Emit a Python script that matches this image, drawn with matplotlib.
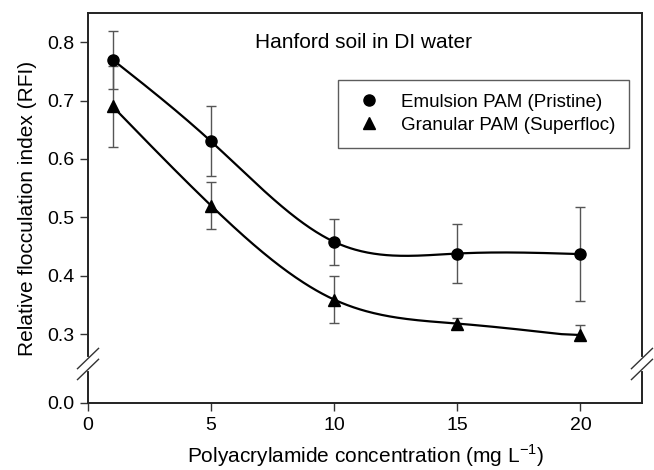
import matplotlib
matplotlib.use("Agg")
import matplotlib.pyplot as plt
import numpy as np

plt.rcParams['font.family'] = ['Liberation Sans', 'DejaVu Sans']

# data
conc = [1, 5, 10, 15, 20]
emulsion = [0.77, 0.63, 0.458, 0.438, 0.437]
emulsion_err = [0.05, 0.06, 0.04, 0.05, 0.081]
granular = [0.69, 0.52, 0.359, 0.318, 0.296]
granular_err = [0.07, 0.04, 0.04, 0.01, 0.02]
x_ticks = [0, 5, 10, 15, 20]
y_ticks = [0.0, 0.3, 0.4, 0.5, 0.6, 0.7, 0.8]


def natural_spline(x, y, xs):
    x = np.asarray(x, float)
    y = np.asarray(y, float)
    n = len(x)
    h = np.diff(x)
    A = np.zeros((n, n))
    b = np.zeros(n)
    A[0, 0] = A[-1, -1] = 1
    for i in range(1, n - 1):
        A[i, i - 1] = h[i - 1]
        A[i, i] = 2 * (h[i - 1] + h[i])
        A[i, i + 1] = h[i]
        b[i] = 6 * ((y[i + 1] - y[i]) / h[i] - (y[i] - y[i - 1]) / h[i - 1])
    M = np.linalg.solve(A, b)
    idx = np.clip(np.searchsorted(x, xs) - 1, 0, n - 2)
    x0, x1 = x[idx], x[idx + 1]
    hh = x1 - x0
    t0, t1 = x1 - xs, xs - x0
    return (M[idx] * t0 ** 3 / (6 * hh) + M[idx + 1] * t1 ** 3 / (6 * hh)
            + (y[idx] / hh - M[idx] * hh / 6) * t0
            + (y[idx + 1] / hh - M[idx + 1] * hh / 6) * t1)


# broken axis: 0-0.3 squeezed into a short band under 0.3
low = 0.118


def fwd(y):
    y = np.asarray(y, float)
    return np.where(y >= 0.3, y, 0.3 - low + y * low / 0.3)


def inv(y):
    y = np.asarray(y, float)
    return np.where(y >= 0.3, y, (y - (0.3 - low)) * 0.3 / low)


fig = plt.figure(figsize=(6.54, 4.70), dpi=100)
ax = fig.add_axes([0.1346, 0.1426, 0.847, 0.8297])
ax.set_yscale('function', functions=(fwd, inv))

xs = np.linspace(conc[0], conc[-1], 300)
ax.plot(xs, natural_spline(conc, emulsion, xs), color='black', lw=1.6, zorder=2)
ax.plot(xs, natural_spline(conc, granular, xs), color='black', lw=1.6, zorder=2)

ax.errorbar(conc, emulsion, yerr=emulsion_err, fmt='none', ecolor='#555555',
            elinewidth=1.0, capsize=3.5, capthick=1.0, zorder=1)
ax.errorbar(conc, granular, yerr=granular_err, fmt='none', ecolor='#555555',
            elinewidth=1.0, capsize=3.5, capthick=1.0, zorder=1)
ax.plot(conc, emulsion, 'o', color='black', ms=8, label='Emulsion PAM (Pristine)', zorder=3)
ax.plot(conc, granular, '^', color='black', ms=8, label='Granular PAM (Superfloc)', zorder=3)

ax.set_xlim(0, 22.5)
ax.set_ylim(0.0, 0.85)
ax.set_xticks(x_ticks)
ax.set_yticks(y_ticks)
ax.set_yticklabels(['%.1f' % v for v in y_ticks])
ax.tick_params(labelsize=14, length=6, width=1, direction='out', pad=4, color='#333333')
for s in ax.spines.values():
    s.set_linewidth(1.4)
    s.set_color('#222222')

ax.set_xlabel('Polyacrylamide concentration (mg L$^{\\mathregular{-1}}$)', fontsize=15, labelpad=6)
ax.set_ylabel('Relative flocculation index (RFI)', fontsize=15, labelpad=7)

ax.text(0.302, 0.925, 'Hanford soil in DI water', transform=ax.transAxes,
        fontsize=15, va='center', ha='left')

leg = ax.legend(loc='upper right', bbox_to_anchor=(0.9765, 0.828), fontsize=13.5,
                frameon=True, fancybox=False, edgecolor='#333333', handlelength=1.85,
                handletextpad=0.78, borderpad=0.72, labelspacing=0.33, borderaxespad=0)
leg.get_frame().set_linewidth(1.0)

# break marks on both spines
yc, dy, dx = 0.10, 0.026, 0.019
for xsp in (0, 1):
    ax.plot([xsp, xsp], [yc - 0.014, yc + 0.014], color='white', lw=3,
            transform=ax.transAxes, clip_on=False, zorder=5)
    for off in (-0.014, 0.014):
        ax.plot([xsp - dx, xsp + dx], [yc + off - dy, yc + off + dy], color='#333333',
                lw=1.0, transform=ax.transAxes, clip_on=False, zorder=6)

fig.savefig('out.png', dpi=100)
